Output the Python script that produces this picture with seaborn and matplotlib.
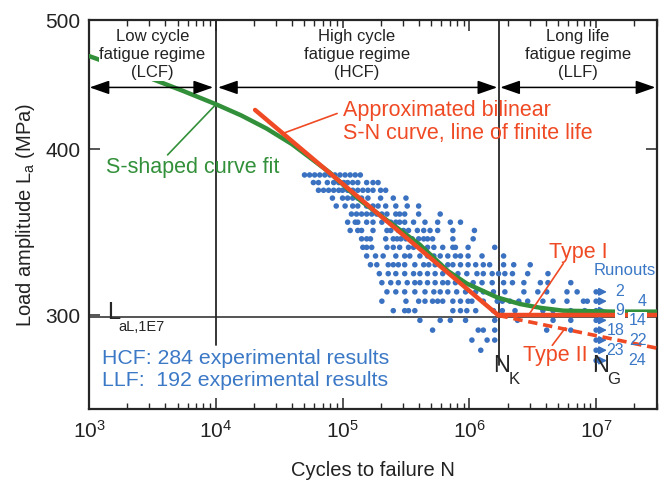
import numpy as np
import pandas as pd
import matplotlib
matplotlib.use("Agg")
import matplotlib.pyplot as plt
import seaborn as sns
from matplotlib.ticker import LogLocator, NullLocator, NullFormatter, ScalarFormatter

# load levels of the test series (MPa), top to bottom
levels = [382.5, 377.5, 372.5, 367.5, 362.5, 357.5, 352.5, 347.5, 342.5, 337.5,
          332.5, 327.5, 322.5, 317.5, 312.5, 307.5, 302.5, 297.5, 292.5, 287.5, 282.5]

# log10(cycles to failure) of the broken specimens, one list per level
log_cycles = [
    [4.70, 4.74, 4.78, 4.82, 4.86, 4.90, 4.94, 4.98, 5.02, 5.06, 5.10, 5.14],
    [4.77, 4.81, 4.88, 4.93, 4.97, 5.01, 5.04, 5.08, 5.12, 5.19, 5.24, 5.28],
    [4.81, 4.85, 4.89, 4.93, 4.97, 5.00, 5.04, 5.08, 5.12, 5.16, 5.20, 5.24, 5.30, 5.34],
    [4.92, 5.00, 5.04, 5.08, 5.12, 5.15, 5.20, 5.30, 5.40, 5.50],
    [4.95, 5.02, 5.08, 5.12, 5.19, 5.24, 5.28, 5.34, 5.42, 5.51, 5.60],
    [5.07, 5.11, 5.15, 5.19, 5.23, 5.27, 5.31, 5.35, 5.42, 5.45, 5.49, 5.60, 5.77],
    [5.04, 5.10, 5.12, 5.19, 5.24, 5.31, 5.38, 5.42, 5.45, 5.49, 5.56, 5.65, 5.75, 5.85, 5.93],
    [5.06, 5.12, 5.15, 5.24, 5.35, 5.38, 5.44, 5.48, 5.52, 5.59, 5.64, 5.69, 5.75, 5.87, 6.04],
    [5.15, 5.19, 5.22, 5.34, 5.40, 5.43, 5.46, 5.50, 5.55, 5.60, 5.64, 5.67, 5.71, 5.87, 6.03],
    [5.16, 5.19, 5.23, 5.35, 5.40, 5.45, 5.52, 5.56, 5.61, 5.67, 5.72, 5.79, 5.87, 5.89, 5.99, 6.20],
    [5.19, 5.26, 5.32, 5.42, 5.49, 5.53, 5.61, 5.67, 5.72, 5.77, 5.83, 5.89, 5.93, 5.99, 6.10, 6.27],
    [5.22, 5.27, 5.36, 5.40, 5.44, 5.49, 5.57, 5.64, 5.68, 5.73, 5.77, 5.83, 5.87, 5.93, 5.99,
     6.05, 6.11, 6.16, 6.27, 6.35, 6.48],
    [5.29, 5.36, 5.42, 5.49, 5.56, 5.61, 5.67, 5.73, 5.79, 5.85, 5.91, 5.98, 6.06, 6.11, 6.18,
     6.23, 6.28, 6.34, 6.46, 6.62],
    [5.31, 5.38, 5.44, 5.51, 5.57, 5.61, 5.67, 5.73, 5.79, 5.83, 5.89, 5.95, 6.03, 6.10, 6.18,
     6.27, 6.34, 6.43, 6.56, 6.62, 6.80],
    [5.35, 5.42, 5.49, 5.57, 5.65, 5.72, 5.77, 5.83, 5.90, 5.97, 6.05, 6.11, 6.19, 6.28, 6.43,
     6.54, 6.61, 6.77, 6.85],
    [5.31, 5.50, 5.60, 5.65, 5.71, 5.75, 5.79, 5.87, 5.93, 5.99, 6.02, 6.11, 6.22, 6.26, 6.32,
     6.39, 6.46, 6.58, 6.66, 6.77, 6.90, 6.93],
    [5.40, 5.49, 5.52, 5.57, 5.87, 5.93, 5.98, 6.05, 6.19, 6.26, 6.36, 6.58, 6.66, 6.80, 6.91],
    [5.61, 5.77, 5.85, 5.97, 6.20, 6.38, 6.66, 6.80],
    [5.71, 6.07, 6.11, 6.20, 6.61, 6.80],
    [6.02, 6.14, 6.20],
    [6.09],
]

# runouts at N_G
runout_levels = [312.5, 307.5, 302.5, 297.5, 292.5, 287.5, 282.5, 277.5]
runout_counts = ["2", "4", "9", "14", "18", "22", "23", "24"]

# S-shaped curve fit
s_curve_log_n = [3.0, 3.25, 3.5, 3.75, 4.0, 4.2, 4.4, 4.6, 4.9, 5.14, 5.61, 5.83, 5.98,
                 6.22, 6.4, 6.56, 6.74, 7.14, 7.48]
s_curve_load = [469.8, 460.8, 451.5, 442.0, 432.3, 424.0, 414.5, 403.5, 384.0, 366.0, 339.0,
                324.0, 317.0, 309.5, 306.0, 304.0, 302.5, 302.0, 302.0]

# bilinear S-N curve
finite_log_n = [4.31, 6.23]
finite_load = [428.0, 300.0]
type1_log_n = [6.23, 7.48]
type1_load = [300.0, 300.0]
type2_log_n = [6.23, 7.48]
type2_load = [300.0, 283.5]

n_k = 10 ** 6.23
n_g = 1e7
l_al = 299.0

BLUE = "#3a71c0"
BLUE_TXT = "#3b78c6"
GREEN = "#33903a"
RED = "#ef4a24"
DARK = "#262626"

sns.set_theme(style="ticks")
plt.rcParams["font.family"] = ["Liberation Sans", "DejaVu Sans"]
plt.rcParams["mathtext.fontset"] = "custom"
plt.rcParams["mathtext.rm"] = "Liberation Sans"
plt.rcParams["mathtext.it"] = "Liberation Sans"

fig = plt.figure(figsize=(6.66, 4.86), dpi=100)
ax = fig.add_axes([0.1336, 0.1584, 0.8529, 0.8004])
ax.set(xscale="log", yscale="log")

rows = []
for lvl, cyc in zip(levels, log_cycles):
    for c in cyc:
        rows.append((10 ** c, lvl))
for lvl in runout_levels:
    rows.append((n_g, lvl))
df = pd.DataFrame(rows, columns=["N", "load"])

sns.scatterplot(data=df, x="N", y="load", ax=ax, color=BLUE, s=16, edgecolor="none",
                linewidth=0, zorder=2, legend=False)

for lvl in runout_levels:
    ax.annotate("", xy=(10 ** 7.085, lvl), xytext=(10 ** 7.005, lvl),
                arrowprops=dict(arrowstyle="-|>,head_length=0.5,head_width=0.25",
                                color=BLUE, lw=1.2, mutation_scale=9,
                                shrinkA=0, shrinkB=0), zorder=2)

# regime boundaries and L_aL line
ax.plot([1e4, 1e4], [285, 500], color=DARK, lw=1.3, zorder=1)
ax.plot([n_k, n_k], [275.5, 500], color=DARK, lw=1.3, zorder=1)
ax.plot([n_g, n_g], [273, 276.5], color=DARK, lw=1.3, zorder=1)
ax.axhline(l_al, color=DARK, lw=1.1, zorder=1)

sns.lineplot(x=10 ** np.array(s_curve_log_n), y=s_curve_load, ax=ax, color=GREEN, lw=3.2,
             sort=False, estimator=None, zorder=3)
sns.lineplot(x=10 ** np.array(finite_log_n), y=finite_load, ax=ax, color=RED, lw=3.2,
             sort=False, estimator=None, zorder=4)
sns.lineplot(x=10 ** np.array(type1_log_n), y=type1_load, ax=ax, color=RED, lw=3.2,
             sort=False, estimator=None, zorder=4)
sns.lineplot(x=10 ** np.array(type2_log_n), y=type2_load, ax=ax, color=RED, lw=2.6,
             sort=False, estimator=None, zorder=4)
ax.lines[-1].set_dashes([2.6, 1.6])

# regime arrows
arrow_kw = dict(arrowstyle="<|-|>,head_length=0.8,head_width=0.28", color="black", lw=1.1,
                mutation_scale=15, shrinkA=0, shrinkB=0)
for a, b in [(3.005, 3.979), (4.018, 6.22), (6.244, 7.467)]:
    ax.annotate("", xy=(10 ** a, 445), xytext=(10 ** b, 445), arrowprops=arrow_kw)

reg_kw = dict(ha="center", va="center", fontsize=12, color="#222222", linespacing=1.25,
              zorder=6, bbox=dict(fc="white", ec="none", pad=0.5))
ax.text(10 ** 3.5, 471, "Low cycle\nfatigue regime\n(LCF)", **reg_kw)
ax.text(10 ** 5.114, 471, "High cycle\nfatigue regime\n(HCF)", **reg_kw)
ax.text(10 ** 6.855, 471, "Long life\nfatigue regime\n(LLF)", **reg_kw)

# annotations
ax.text(10 ** 5.0, 419, "Approximated bilinear\nS-N curve, line of finite life", color=RED,
        fontsize=15.5, ha="left", va="center", linespacing=1.1)
ax.plot([10 ** 4.53, 10 ** 4.957], [411, 425.4], color=RED, lw=1.2, zorder=4)

ax.text(10 ** 3.134, 387.6, "S-shaped curve fit", color=GREEN, fontsize=15.5, ha="left",
        va="center")
ax.plot([10 ** 3.62, 1e4], [396, 432], color=GREEN, lw=1.2, zorder=3)

ax.text(10 ** 6.86, 334.7, "Type I", color=RED, fontsize=15.5, ha="center", va="center")
ax.plot([10 ** 6.741, 10 ** 6.465], [328.2, 300], color=RED, lw=1.2, zorder=4)
ax.text(10 ** 6.678, 280, "Type II", color=RED, fontsize=15.5, ha="center", va="center")
ax.plot([10 ** 6.654, 10 ** 6.757], [284.9, 293.6], color=RED, lw=1.2, zorder=4)

ax.text(10 ** 6.98, 324.3, "Runouts", color=BLUE_TXT, fontsize=12, ha="left", va="center")
for i, (lvl, cnt) in enumerate(zip(runout_levels, runout_counts)):
    x = 10 ** 7.222 if i % 2 == 0 else 10 ** 7.396
    bb = dict(fc="white", ec="none", pad=0.3) if cnt in ("9", "14") else None
    ax.text(x, lvl, cnt, color=BLUE_TXT, fontsize=11.5, ha="right", va="center", bbox=bb,
            zorder=5)

ax.text(10 ** 3.1, 278.7, "HCF: 284 experimental results", color=BLUE_TXT, fontsize=15.3,
        ha="left", va="center")
ax.text(10 ** 3.1, 268, "LLF:  192 experimental results", color=BLUE_TXT, fontsize=15.3,
        ha="left", va="center")

# symbols: letter plus lowered subscript
ax.text(10 ** 3.14, 298.3, "L", fontsize=17, ha="left", va="baseline")
ax.text(10 ** 3.23, 292.3, "aL,1E7", fontsize=10.5, ha="left", va="baseline")
ax.text(10 ** 6.19, 272.0, "N", fontsize=17, ha="left", va="baseline")
ax.text(10 ** 6.31, 266.3, "K", fontsize=12, ha="left", va="baseline")
ax.text(10 ** 6.965, 272.0, "N", fontsize=17, ha="left", va="baseline")
ax.text(10 ** 7.085, 266.3, "G", fontsize=12, ha="left", va="baseline")

# axes
ax.set_xlim(1e3, 10 ** 7.48)
ax.set_ylim(255.2, 500)
ax.xaxis.set_major_locator(LogLocator(base=10, numticks=10))
ax.xaxis.set_minor_locator(LogLocator(base=10, subs=np.arange(2, 10), numticks=50))
ax.xaxis.set_minor_formatter(NullFormatter())
ax.set_yticks([300, 400, 500])
ax.yaxis.set_major_formatter(ScalarFormatter())
ax.yaxis.set_minor_locator(NullLocator())
ax.tick_params(which="both", direction="in", top=True, right=True, colors=DARK,
               labelsize=15, labelcolor="#222222")
ax.tick_params(which="major", length=8, width=1.1)
ax.tick_params(which="minor", length=4, width=1.0)
ax.tick_params(axis="x", pad=8)
ax.tick_params(axis="y", pad=6)
for sp in ax.spines.values():
    sp.set_linewidth(1.6)
    sp.set_color(DARK)

ax.set_xlabel("Cycles to failure N", fontsize=14.5, labelpad=14, color="#222222")
ax.set_ylabel(r"Load amplitude $\mathregular{L_a}$ (MPa)", fontsize=14.5, labelpad=6,
              color="#222222")

fig.savefig("out.png", dpi=100)
